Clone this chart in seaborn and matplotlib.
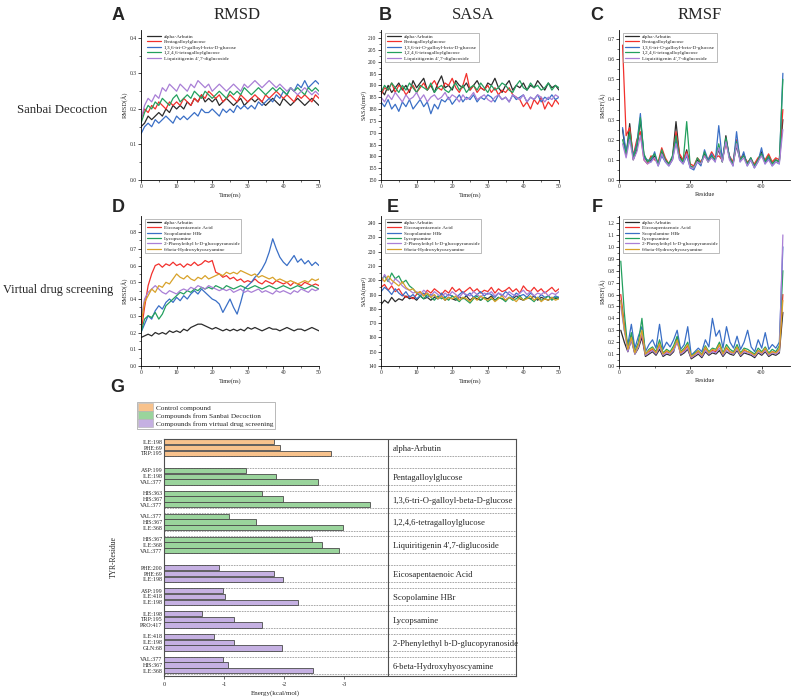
import numpy as np
import pandas as pd
import seaborn as sns
import matplotlib.pyplot as plt
from matplotlib.lines import Line2D
from matplotlib.patches import Patch
from matplotlib.ticker import MultipleLocator, AutoMinorLocator

sns.set_theme(style='ticks')
plt.rcParams['font.family'] = ['Liberation Serif', 'DejaVu Serif']

# compound names in the trajectory panels
SANBAI = ['alpha-Arbutin', 'Pentagalloylglucose', '1,3,6-tri-O-galloyl-beta-D-glucose',
          '1,2,4,6-tetragalloylglucose', "Liquiritigenin 4',7-diglucoside"]
VIRTUAL = ['alpha-Arbutin', 'Eicosapentaenoic Acid', 'Scopolamine HBr', 'Lycopsamine',
           '2-Phenylethyl b-D-glucopyranoside', '6-beta-Hydroxyhyoscyamine']
LINE_COLORS = ['#2b2b2b', '#f2302c', '#3a6fc6', '#23a05e', '#a97fd6', '#d8a22a']

# A: RMSD, Sanbai Decoction (one value per ns, 0-50 ns)
A_ARBUTIN = [0.15, 0.16, 0.18, 0.17, 0.18, 0.19, 0.18, 0.20, 0.19, 0.21, 0.20, 0.21, 0.20, 0.22, 0.21, 0.23, 0.22,
             0.24, 0.22, 0.23, 0.22, 0.23, 0.21, 0.22, 0.23, 0.22, 0.21, 0.22, 0.23, 0.21, 0.22, 0.23, 0.22, 0.23,
             0.22, 0.21, 0.22, 0.23, 0.22, 0.21, 0.23, 0.22, 0.21, 0.22, 0.23, 0.22, 0.21, 0.22, 0.23, 0.22, 0.21]
A_PENTA = [0.17, 0.20, 0.19, 0.21, 0.20, 0.22, 0.21, 0.20, 0.22, 0.21, 0.22, 0.21, 0.23, 0.22, 0.21, 0.23, 0.22,
           0.24, 0.23, 0.25, 0.24, 0.23, 0.24, 0.22, 0.23, 0.24, 0.23, 0.22, 0.24, 0.23, 0.22, 0.23, 0.24, 0.23,
           0.22, 0.24, 0.23, 0.24, 0.25, 0.24, 0.23, 0.24, 0.23, 0.22, 0.24, 0.23, 0.24, 0.23, 0.22, 0.24, 0.23]
A_TRIGALLOYL = [0.13, 0.15, 0.16, 0.15, 0.17, 0.16, 0.17, 0.18, 0.17, 0.16, 0.18, 0.17, 0.18, 0.17, 0.18, 0.19,
                0.18, 0.20, 0.19, 0.19, 0.20, 0.19, 0.18, 0.20, 0.19, 0.20, 0.19, 0.21, 0.20, 0.21, 0.20, 0.21,
                0.20, 0.22, 0.21, 0.22, 0.23, 0.22, 0.24, 0.23, 0.25, 0.24, 0.26, 0.25, 0.27, 0.26, 0.28, 0.26,
                0.27, 0.28, 0.27]
A_TETRAGALLOYL = [0.16, 0.19, 0.21, 0.20, 0.22, 0.21, 0.23, 0.22, 0.21, 0.23, 0.24, 0.22, 0.23, 0.24, 0.23, 0.25,
                  0.24, 0.23, 0.25, 0.24, 0.23, 0.24, 0.25, 0.24, 0.23, 0.25, 0.24, 0.25, 0.24, 0.26, 0.25, 0.24,
                  0.25, 0.26, 0.25, 0.24, 0.25, 0.26, 0.25, 0.26, 0.25, 0.24, 0.26, 0.25, 0.26, 0.25, 0.24, 0.26,
                  0.25, 0.26, 0.25]
A_LIQUIRITIGENIN = [0.17, 0.21, 0.23, 0.22, 0.24, 0.23, 0.26, 0.25, 0.27, 0.26, 0.25, 0.27, 0.26, 0.25, 0.27,
                    0.26, 0.28, 0.27, 0.26, 0.27, 0.25, 0.26, 0.27, 0.26, 0.25, 0.26, 0.27, 0.26, 0.25, 0.27,
                    0.26, 0.27, 0.28, 0.27, 0.26, 0.27, 0.28, 0.27, 0.26, 0.27, 0.26, 0.25, 0.26, 0.25, 0.24,
                    0.25, 0.26, 0.25, 0.24, 0.25, 0.24]

# B: SASA, Sanbai Decoction
B_ARBUTIN = [188, 186, 190, 187, 189, 191, 188, 190, 187, 192, 189, 191, 193, 188, 190, 187, 191, 194, 189, 190,
             188, 192, 190, 189, 191, 188, 190, 192, 189, 188, 191, 190, 193, 189, 187, 190, 192, 188, 190, 189,
             191, 188, 190, 189, 192, 190, 188, 191, 189, 190, 188]
B_PENTA = [186, 189, 188, 191, 187, 190, 189, 186, 188, 190, 187, 189, 191, 188, 190, 192, 189, 188, 191, 190,
           193, 189, 187, 190, 195, 188, 190, 187, 189, 188, 190, 187, 189, 186, 188, 187, 189, 186, 185, 184,
           181, 183, 180, 184, 182, 185, 180, 183, 181, 184, 182]
B_TRIGALLOYL = [183, 181, 184, 180, 182, 179, 183, 181, 184, 180, 182, 184, 181, 183, 178, 182, 180, 184, 183,
                185, 182, 184, 186, 183, 185, 184, 186, 183, 185, 184, 186, 185, 183, 186, 184, 185, 183, 186,
                184, 185, 186, 183, 185, 184, 186, 183, 185, 184, 186, 184, 185]
B_TETRAGALLOYL = [187, 190, 188, 191, 189, 187, 190, 188, 191, 189, 187, 190, 189, 188, 191, 187, 189, 190, 188,
                  187, 189, 191, 188, 190, 187, 189, 190, 188, 191, 189, 187, 190, 188, 189, 191, 190, 188, 187,
                  190, 192, 189, 188, 191, 189, 190, 188, 189, 191, 188, 190, 189]
B_LIQUIRITIGENIN = [185, 183, 186, 184, 187, 185, 183, 186, 184, 185, 187, 184, 186, 183, 185, 186, 184, 185, 187,
                    184, 186, 185, 183, 186, 184, 185, 187, 184, 185, 186, 184, 183, 185, 186, 184, 185, 183, 186,
                    185, 184, 186, 183, 185, 184, 186, 185, 183, 185, 184, 186, 185]

# C: RMSF, Sanbai Decoction (every ~10 residues)
C_ARBUTIN = [0.25, 0.12, 0.28, 0.10, 0.15, 0.30, 0.12, 0.09, 0.10, 0.12, 0.08, 0.14, 0.10, 0.08, 0.11, 0.29,
             0.12, 0.09, 0.15, 0.07, 0.06, 0.10, 0.08, 0.13, 0.09, 0.12, 0.10, 0.15, 0.09, 0.22, 0.11, 0.08,
             0.17, 0.10, 0.13, 0.08, 0.11, 0.07, 0.10, 0.14, 0.09, 0.12, 0.08, 0.10, 0.09, 0.30]
C_PENTA = [0.67, 0.22, 0.26, 0.12, 0.20, 0.24, 0.10, 0.08, 0.12, 0.10, 0.09, 0.16, 0.11, 0.08, 0.10, 0.24,
           0.13, 0.10, 0.14, 0.08, 0.07, 0.11, 0.09, 0.12, 0.10, 0.14, 0.11, 0.12, 0.10, 0.18, 0.12, 0.09,
           0.20, 0.11, 0.12, 0.09, 0.10, 0.08, 0.11, 0.12, 0.10, 0.13, 0.09, 0.11, 0.10, 0.35]
C_TRIGALLOYL = [0.26, 0.14, 0.22, 0.12, 0.18, 0.33, 0.11, 0.10, 0.09, 0.14, 0.07, 0.12, 0.09, 0.07, 0.10, 0.20,
                0.10, 0.08, 0.12, 0.06, 0.05, 0.09, 0.07, 0.15, 0.10, 0.13, 0.09, 0.27, 0.10, 0.20, 0.12, 0.07,
                0.24, 0.09, 0.14, 0.07, 0.10, 0.06, 0.09, 0.16, 0.08, 0.11, 0.07, 0.09, 0.08, 0.53]
C_TETRAGALLOYL = [0.20, 0.13, 0.24, 0.11, 0.17, 0.31, 0.13, 0.09, 0.11, 0.13, 0.08, 0.15, 0.10, 0.08, 0.12, 0.22,
                  0.11, 0.09, 0.29, 0.07, 0.06, 0.11, 0.08, 0.14, 0.09, 0.12, 0.10, 0.18, 0.09, 0.21, 0.11, 0.08,
                  0.19, 0.10, 0.12, 0.08, 0.11, 0.07, 0.10, 0.13, 0.09, 0.12, 0.08, 0.10, 0.09, 0.50]
C_LIQUIRITIGENIN = [0.18, 0.11, 0.20, 0.10, 0.14, 0.22, 0.10, 0.08, 0.09, 0.11, 0.07, 0.13, 0.09, 0.07, 0.10,
                    0.18, 0.10, 0.08, 0.13, 0.06, 0.06, 0.09, 0.08, 0.12, 0.09, 0.11, 0.09, 0.16, 0.09, 0.19,
                    0.10, 0.07, 0.18, 0.09, 0.11, 0.07, 0.10, 0.06, 0.09, 0.12, 0.08, 0.10, 0.07, 0.09, 0.08, 0.25]

# D: RMSD, virtual drug screening
D_ARBUTIN = [0.17, 0.18, 0.19, 0.18, 0.20, 0.19, 0.20, 0.19, 0.21, 0.20, 0.21, 0.20, 0.22, 0.21, 0.23, 0.24, 0.25,
             0.25, 0.24, 0.23, 0.22, 0.23, 0.22, 0.21, 0.22, 0.21, 0.22, 0.21, 0.22, 0.21, 0.23, 0.22, 0.23, 0.22,
             0.21, 0.22, 0.23, 0.22, 0.22, 0.21, 0.22, 0.23, 0.22, 0.21, 0.22, 0.22, 0.21, 0.22, 0.23, 0.22, 0.21]
D_EICOSA = [0.20, 0.35, 0.48, 0.55, 0.60, 0.61, 0.59, 0.61, 0.60, 0.62, 0.60, 0.61, 0.59, 0.61, 0.60, 0.62, 0.60,
            0.61, 0.63, 0.62, 0.63, 0.56, 0.55, 0.53, 0.54, 0.52, 0.53, 0.51, 0.52, 0.50, 0.51, 0.50, 0.52, 0.50,
            0.49, 0.51, 0.50, 0.49, 0.51, 0.50, 0.49, 0.50, 0.48, 0.50, 0.49, 0.48, 0.50, 0.49, 0.48, 0.49, 0.48]
D_SCOPOLAMINE = [0.20, 0.25, 0.30, 0.28, 0.33, 0.36, 0.34, 0.38, 0.40, 0.38, 0.41, 0.39, 0.42, 0.40, 0.43, 0.45,
                 0.43, 0.46, 0.44, 0.42, 0.40, 0.39, 0.37, 0.32, 0.36, 0.40, 0.35, 0.31, 0.38, 0.46, 0.48, 0.50,
                 0.53, 0.55, 0.58, 0.62, 0.68, 0.76, 0.70, 0.65, 0.62, 0.60, 0.63, 0.66, 0.62, 0.64, 0.61, 0.63,
                 0.60, 0.62, 0.60]
D_LYCOPSAMINE = [0.20, 0.28, 0.30, 0.29, 0.32, 0.28, 0.31, 0.36, 0.38, 0.40, 0.42, 0.44, 0.43, 0.45, 0.44, 0.46,
                 0.45, 0.47, 0.46, 0.47, 0.46, 0.48, 0.47, 0.46, 0.48, 0.47, 0.46, 0.47, 0.48, 0.47, 0.46, 0.47,
                 0.48, 0.47, 0.46, 0.47, 0.48, 0.47, 0.46, 0.47, 0.48, 0.47, 0.46, 0.47, 0.48, 0.47, 0.46, 0.47,
                 0.48, 0.47, 0.46]
D_PHENYLETHYL = [0.28, 0.40, 0.44, 0.46, 0.48, 0.46, 0.44, 0.43, 0.45, 0.44, 0.43, 0.45, 0.46, 0.45, 0.47, 0.46,
                 0.48, 0.47, 0.46, 0.48, 0.47, 0.46, 0.45, 0.46, 0.45, 0.46, 0.44, 0.45, 0.46, 0.44, 0.45, 0.44,
                 0.45, 0.46, 0.44, 0.45, 0.44, 0.43, 0.45, 0.44, 0.45, 0.44, 0.43, 0.45, 0.44, 0.46, 0.45, 0.44,
                 0.46, 0.45, 0.46]
D_HYOSCYAMINE = [0.25, 0.38, 0.42, 0.46, 0.44, 0.48, 0.47, 0.50, 0.49, 0.52, 0.55, 0.53, 0.52, 0.54, 0.52, 0.51,
                 0.53, 0.52, 0.54, 0.52, 0.53, 0.54, 0.55, 0.54, 0.56, 0.55, 0.56, 0.55, 0.57, 0.56, 0.55, 0.54,
                 0.55, 0.53, 0.54, 0.53, 0.52, 0.53, 0.51, 0.52, 0.51, 0.50, 0.51, 0.50, 0.49, 0.50, 0.51, 0.50,
                 0.52, 0.51, 0.52]

# E: SASA, virtual drug screening
E_ARBUTIN = [183, 186, 184, 188, 185, 187, 186, 189, 187, 188, 186, 189, 187, 188, 186, 188, 187, 189, 186, 188,
             187, 186, 188, 187, 189, 186, 188, 187, 186, 188, 187, 189, 186, 188, 187, 186, 188, 187, 189, 187,
             186, 188, 187, 189, 186, 188, 187, 186, 188, 187, 188]
E_EICOSA = [195, 197, 193, 196, 192, 194, 190, 188, 189, 187, 190, 192, 189, 193, 191, 194, 192, 190, 193, 191,
            195, 192, 194, 191, 193, 195, 192, 194, 191, 193, 192, 195, 191, 194, 192, 193, 195, 192, 194, 191,
            196, 193, 192, 195, 192, 194, 191, 193, 195, 192, 194]
E_SCOPOLAMINE = [192, 195, 193, 190, 194, 191, 189, 192, 188, 190, 187, 189, 191, 188, 190, 189, 187, 191, 188,
                 190, 189, 187, 190, 192, 189, 191, 188, 190, 192, 189, 191, 190, 188, 191, 189, 192, 190, 188,
                 191, 189, 190, 188, 191, 189, 187, 190, 188, 189, 187, 189, 188]
E_LYCOPSAMINE = [200, 203, 199, 205, 201, 203, 198, 200, 196, 194, 191, 189, 187, 190, 188, 186, 189, 187, 188,
                 186, 189, 187, 185, 188, 186, 184, 187, 189, 186, 188, 185, 187, 186, 188, 187, 185, 188, 186,
                 187, 189, 186, 188, 187, 185, 188, 186, 187, 189, 186, 188, 187]
E_PHENYLETHYL = [198, 204, 200, 197, 201, 199, 196, 194, 193, 191, 192, 190, 193, 191, 189, 192, 190, 188, 191,
                 189, 192, 190, 188, 191, 190, 189, 192, 190, 188, 191, 190, 192, 189, 191, 190, 188, 192, 190,
                 189, 191, 193, 190, 192, 189, 191, 190, 192, 189, 191, 190, 192]
E_HYOSCYAMINE = [202, 199, 203, 200, 198, 196, 199, 195, 193, 194, 191, 192, 189, 191, 188, 190, 187, 189, 186,
                 188, 187, 189, 186, 188, 187, 185, 188, 186, 189, 187, 186, 188, 185, 187, 189, 186, 188, 187,
                 185, 188, 186, 187, 189, 186, 188, 185, 187, 186, 188, 186, 187]

# F: RMSF, virtual drug screening
F_ARBUTIN = [0.30, 0.20, 0.12, 0.22, 0.10, 0.15, 0.24, 0.08, 0.10, 0.12, 0.09, 0.14, 0.08, 0.10, 0.09, 0.12,
             0.24, 0.09, 0.11, 0.14, 0.06, 0.08, 0.10, 0.07, 0.12, 0.09, 0.11, 0.10, 0.13, 0.08, 0.12, 0.10,
             0.09, 0.13, 0.08, 0.11, 0.10, 0.09, 0.07, 0.11, 0.09, 0.12, 0.08, 0.10, 0.09, 0.11, 0.45]
F_EICOSA = [0.60, 0.35, 0.15, 0.25, 0.12, 0.18, 0.26, 0.10, 0.12, 0.14, 0.11, 0.18, 0.10, 0.12, 0.11, 0.15,
            0.20, 0.11, 0.13, 0.17, 0.07, 0.10, 0.12, 0.09, 0.15, 0.11, 0.13, 0.12, 0.18, 0.10, 0.15, 0.12,
            0.11, 0.16, 0.10, 0.13, 0.12, 0.11, 0.09, 0.13, 0.11, 0.14, 0.10, 0.12, 0.11, 0.14, 0.60]
F_SCOPOLAMINE = [0.55, 0.30, 0.18, 0.35, 0.15, 0.25, 0.33, 0.12, 0.18, 0.22, 0.15, 0.35, 0.14, 0.20, 0.16, 0.22,
                 0.30, 0.14, 0.18, 0.33, 0.09, 0.12, 0.15, 0.12, 0.22, 0.16, 0.40, 0.25, 0.30, 0.15, 0.33, 0.20,
                 0.15, 0.25, 0.14, 0.20, 0.30, 0.16, 0.12, 0.22, 0.15, 0.28, 0.14, 0.18, 0.15, 0.20, 1.00]
F_LYCOPSAMINE = [0.88, 0.45, 0.14, 0.28, 0.12, 0.20, 0.40, 0.10, 0.14, 0.16, 0.12, 0.22, 0.11, 0.14, 0.12, 0.17,
                 0.25, 0.12, 0.15, 0.20, 0.08, 0.11, 0.13, 0.10, 0.17, 0.12, 0.15, 0.14, 0.20, 0.11, 0.18, 0.14,
                 0.12, 0.18, 0.11, 0.15, 0.14, 0.12, 0.10, 0.15, 0.12, 0.16, 0.11, 0.14, 0.12, 0.17, 0.80]
F_PHENYLETHYL = [0.50, 0.30, 0.12, 0.22, 0.10, 0.16, 0.28, 0.09, 0.11, 0.13, 0.10, 0.16, 0.09, 0.11, 0.10, 0.13,
                 0.20, 0.10, 0.12, 0.15, 0.07, 0.09, 0.11, 0.08, 0.13, 0.10, 0.12, 0.11, 0.15, 0.09, 0.13, 0.11,
                 0.10, 0.14, 0.09, 0.12, 0.11, 0.10, 0.08, 0.12, 0.10, 0.13, 0.09, 0.11, 0.10, 0.12, 1.10]
F_HYOSCYAMINE = [0.55, 0.32, 0.14, 0.24, 0.11, 0.18, 0.30, 0.10, 0.13, 0.15, 0.11, 0.19, 0.10, 0.13, 0.11, 0.15,
                 0.22, 0.11, 0.14, 0.18, 0.08, 0.10, 0.13, 0.09, 0.16, 0.11, 0.14, 0.13, 0.18, 0.10, 0.16, 0.12,
                 0.11, 0.16, 0.10, 0.14, 0.12, 0.11, 0.09, 0.13, 0.11, 0.15, 0.10, 0.12, 0.11, 0.14, 0.55]

# G: binding energy per key residue
G_COMPOUNDS = ['alpha-Arbutin', 'Pentagalloylglucose', '1,3,6-tri-O-galloyl-beta-D-glucose',
               '1,2,4,6-tetragalloylglucose', "Liquiritigenin 4',7-diglucoside", 'Eicosapentaenoic Acid',
               'Scopolamine HBr', 'Lycopsamine', '2-Phenylethyl b-D-glucopyranoside', '6-beta-Hydroxyhyoscyamine']
G_SOURCES = ['Control compound', 'Compounds from Sanbai Decoction', 'Compounds from Sanbai Decoction',
             'Compounds from Sanbai Decoction', 'Compounds from Sanbai Decoction',
             'Compounds from virtual drug screening', 'Compounds from virtual drug screening',
             'Compounds from virtual drug screening', 'Compounds from virtual drug screening',
             'Compounds from virtual drug screening']
G_RESIDUES = [['ILE:198', 'PHE:69', 'TRP:195'], ['ASP:199', 'ILE:198', 'VAL:377'], ['HIS:363', 'HIS:367', 'VAL:377'],
              ['VAL:377', 'HIS:367', 'ILE:368'], ['HIS:367', 'ILE:368', 'VAL:377'], ['PHE:200', 'PHE:69', 'ILE:198'],
              ['ASP:199', 'ILE:418', 'ILE:198'], ['ILE:198', 'TRP:195', 'PRO:417'], ['ILE:418', 'ILE:198', 'GLN:68'],
              ['VAL:377', 'HIS:367', 'ILE:368']]
G_ENERGY = [[-1.83, -1.93, -2.79], [-1.37, -1.87, -2.56], [-1.63, -1.98, -3.44], [-1.09, -1.54, -2.98],
            [-2.46, -2.63, -2.91], [-0.92, -1.84, -1.99], [-0.98, -1.01, -2.23], [-0.63, -1.17, -1.64],
            [-0.84, -1.16, -1.97], [-0.99, -1.06, -2.48]]
SOURCE_ORDER = ['Control compound', 'Compounds from Sanbai Decoction', 'Compounds from virtual drug screening']
SOURCE_COLORS = ['#f8c28c', '#9ad49c', '#c5b0e2']
ENERGY_TICKS = [0, -1, -2, -3]


def long_frame(names, series, start, stop):
    parts = []
    for name, vals in zip(names, series):
        parts.append(pd.DataFrame({'x': np.linspace(start, stop, len(vals)), 'y': vals, 'name': name}))
    return pd.concat(parts, ignore_index=True)


def line_panel(ax, names, series, xr, ylim, xstep, ystep, xlabel, ylabel, frame=True):
    df = long_frame(names, series, *xr)
    colors = LINE_COLORS[:len(names)]
    sns.lineplot(data=df, x='x', y='y', hue='name', hue_order=names, palette=colors,
                 estimator=None, sort=False, linewidth=0.9, legend=False, ax=ax)
    ax.set_ylim(*ylim)
    ax.xaxis.set_major_locator(MultipleLocator(xstep))
    ax.yaxis.set_major_locator(MultipleLocator(ystep))
    ax.xaxis.set_minor_locator(AutoMinorLocator(2))
    ax.yaxis.set_minor_locator(AutoMinorLocator(2))
    ax.tick_params(which='major', length=2.2, width=0.5, labelsize=4, pad=1, color='black')
    ax.tick_params(which='minor', length=1.2, width=0.4, color='black')
    sns.despine(ax=ax)
    for side in ['left', 'bottom']:
        ax.spines[side].set_linewidth(0.6)
        ax.spines[side].set_color('black')
    ax.set_xlabel(xlabel, fontsize=4.5, labelpad=2)
    ax.set_ylabel(ylabel, fontsize=4.5, labelpad=1)
    handles = [Line2D([], [], color=c, lw=0.9) for c in colors]
    leg = ax.legend(handles, names, loc='upper left', bbox_to_anchor=(0.01, 1.0), fontsize=3.8,
                    frameon=frame, handlelength=2.6, labelspacing=0.12, borderpad=0.3,
                    handletextpad=0.6, fancybox=False, edgecolor='#888888')
    leg.get_frame().set_linewidth(0.5)


fig = plt.figure(figsize=(8, 6.98), dpi=100)
W, H = 800, 698


def add_axes(left, top, width, height):
    return fig.add_axes([left / W, 1 - (top + height) / H, width / W, height / H])


ax_a = add_axes(141, 30, 178, 150)
ax_b = add_axes(381, 30, 178, 150)
ax_c = add_axes(619, 30, 171, 150)
ax_d = add_axes(141, 216, 178, 150)
ax_e = add_axes(381, 216, 178, 150)
ax_f = add_axes(619, 216, 171, 150)

line_panel(ax_a, SANBAI, [A_ARBUTIN, A_PENTA, A_TRIGALLOYL, A_TETRAGALLOYL, A_LIQUIRITIGENIN],
           (0, 50), (0, 0.4225), 10, 0.1, 'Time(ns)', 'RMSD(Å)', frame=False)
line_panel(ax_b, SANBAI, [B_ARBUTIN, B_PENTA, B_TRIGALLOYL, B_TETRAGALLOYL, B_LIQUIRITIGENIN],
           (0, 50), (150, 213.4), 10, 5, 'Time(ns)', 'SASA(nm²)')
line_panel(ax_c, SANBAI, [C_ARBUTIN, C_PENTA, C_TRIGALLOYL, C_TETRAGALLOYL, C_LIQUIRITIGENIN],
           (10, 460), (0, 0.745), 200, 0.1, 'Residue', 'RMSF(Å)')
line_panel(ax_d, VIRTUAL, [D_ARBUTIN, D_EICOSA, D_SCOPOLAMINE, D_LYCOPSAMINE, D_PHENYLETHYL, D_HYOSCYAMINE],
           (0, 50), (0, 0.896), 10, 0.1, 'Time(ns)', 'RMSD(Å)')
line_panel(ax_e, VIRTUAL, [E_ARBUTIN, E_EICOSA, E_SCOPOLAMINE, E_LYCOPSAMINE, E_PHENYLETHYL, E_HYOSCYAMINE],
           (0, 50), (140, 244.9), 10, 10, 'Time(ns)', 'SASA(nm²)')
line_panel(ax_f, VIRTUAL, [F_ARBUTIN, F_EICOSA, F_SCOPOLAMINE, F_LYCOPSAMINE, F_PHENYLETHYL, F_HYOSCYAMINE],
           (5, 460), (0, 1.259), 200, 0.1, 'Residue', 'RMSF(Å)')
for ax in [ax_a, ax_b, ax_d, ax_e]:
    ax.set_xlim(0, 50)
for ax in [ax_c, ax_f]:
    ax.set_xlim(0, 480)

# ---- panel G: bar chart of residue energies ----
positions, energies, sources, tick_labels, group_pos = [], [], [], [], []
pos = 0
for i, (comp, src) in enumerate(zip(G_COMPOUNDS, G_SOURCES)):
    if i > 0:
        pos += 1
        if src != G_SOURCES[i - 1]:
            pos += 1
    group_pos.append(pos)
    for k in range(3):
        positions.append(pos + k)
        energies.append(G_ENERGY[i][k])
        sources.append(src)
        tick_labels.append(G_RESIDUES[i][k])
    pos += 3

bar_df = pd.DataFrame({'pos': positions, 'energy': energies, 'source': sources})
ax_g = add_axes(164, 439, 352, 237)
x_right = -5.867
divider = -3.73
for gp in group_pos:
    ax_g.hlines([gp - 0.5, gp + 2.5], 0, x_right, colors='#9a9a9a', linestyles=(0, (2, 1.2)),
                linewidth=0.6, zorder=0.5)
sns.barplot(data=bar_df, x='energy', y='pos', hue='source', hue_order=SOURCE_ORDER, palette=SOURCE_COLORS,
            orient='y', native_scale=True, dodge=False, width=0.92, errorbar=None, saturation=1,
            edgecolor='#4a4a4a', linewidth=0.6, legend=False, ax=ax_g, zorder=2)
ax_g.set_xlim(0, x_right)
ax_g.set_ylim(40.9, -0.5)
ax_g.axvline(divider, color='#505050', linewidth=0.8, zorder=3)
ax_g.set_xticks(ENERGY_TICKS)
ax_g.set_xticklabels([str(t) if t == 0 else '-%d' % abs(t) for t in ENERGY_TICKS])
ax_g.set_yticks(positions)
ax_g.set_yticklabels(tick_labels)
ax_g.tick_params(axis='x', length=2, width=0.5, labelsize=4.5, pad=2)
ax_g.tick_params(axis='y', length=0, labelsize=4.3, pad=1)
for spine in ax_g.spines.values():
    spine.set_linewidth(0.8)
    spine.set_color('#505050')
ax_g.set_xlabel('Energy(kcal/mol)', fontsize=5, labelpad=6)
ax_g.xaxis.set_label_coords((275 - 164) / 352, -0.06)
ax_g.set_ylabel('TYR-Residue', fontsize=5.5, labelpad=16)
for comp, gp in zip(G_COMPOUNDS, group_pos):
    ax_g.text(divider - 0.08, gp + 1.25, comp, fontsize=6.2, va='center', ha='left')

legend_handles = [Patch(facecolor=c, edgecolor='#b0b0b0', linewidth=0.4) for c in SOURCE_COLORS]
leg = fig.legend(legend_handles, SOURCE_ORDER, loc='upper left', bbox_to_anchor=(137 / W, 1 - 402 / H),
                 fontsize=5.2, frameon=True, fancybox=False, edgecolor='#999999', handlelength=2.0,
                 handleheight=1.25, labelspacing=0.05, borderpad=0.2, handletextpad=0.4, borderaxespad=0)
leg.get_frame().set_linewidth(0.6)

# ---- titles, row labels and panel letters ----
for x, title in [(237, 'RMSD'), (473, 'SASA'), (700, 'RMSF')]:
    fig.text(x / W, 1 - 15 / H, title, fontsize=12, ha='center', va='center')
fig.text(62 / W, 1 - 110 / H, 'Sanbai Decoction', fontsize=9.2, ha='center', va='center')
fig.text(58 / W, 1 - 290 / H, 'Virtual drug screening', fontsize=8.8, ha='center', va='center')
for x, y, letter in [(118, 15, 'A'), (385, 15, 'B'), (597, 15, 'C'), (118, 207, 'D'), (393, 207, 'E'),
                     (597, 207, 'F'), (117, 388, 'G')]:
    fig.text(x / W, 1 - y / H, letter, fontsize=13, fontweight='bold', ha='center', va='center',
             family=['Liberation Sans', 'DejaVu Sans'])

fig.savefig('out.png', dpi=100)
